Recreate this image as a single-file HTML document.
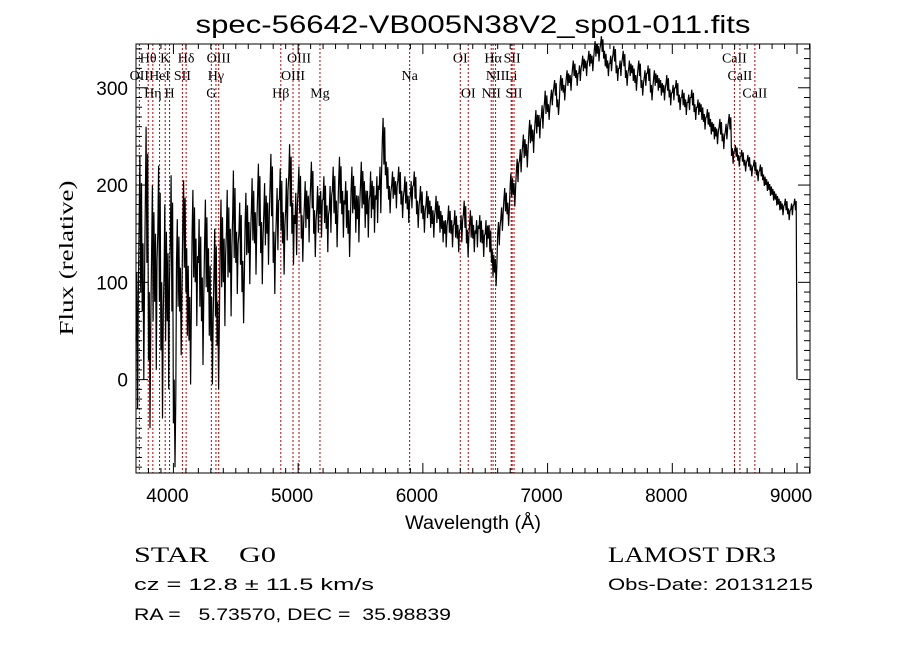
<!DOCTYPE html>
<html><head><meta charset="utf-8"><style>
html,body{margin:0;padding:0;background:#fff;width:900px;height:649px;overflow:hidden}
svg text{font-family:"Liberation Sans",sans-serif;fill:#000;white-space:pre}
.ser{font-family:"Liberation Serif",serif}
</style></head><body>
<svg id="chart" width="900" height="649" xmlns="http://www.w3.org/2000/svg" xml:space="preserve">
<text x="473" y="33" font-size="25" text-anchor="middle" textLength="555" lengthAdjust="spacingAndGlyphs">spec-56642-VB005N38V2_sp01-011.fits</text>
<g id="lines"></g>
<g id="labels"></g>
<g id="ticks"></g>
<path id="spec" fill="none" stroke="#000" stroke-width="1.2" stroke-linejoin="miter"/>
<rect x="136" y="44" width="674" height="429" fill="none" stroke="#000" stroke-width="1"/>
<text x="473" y="529" font-size="19" text-anchor="middle" textLength="136" lengthAdjust="spacingAndGlyphs">Wavelength (Å)</text>
<text transform="translate(73,258) rotate(-90)" font-size="20" text-anchor="middle" textLength="155" lengthAdjust="spacingAndGlyphs" class="ser">Flux (relative)</text>
<text x="134" y="562" font-size="22" class="ser" textLength="142" lengthAdjust="spacingAndGlyphs">STAR    G0</text>
<text x="134" y="590" font-size="17" textLength="240" lengthAdjust="spacingAndGlyphs">cz = 12.8 ± 11.5 km/s</text>
<text x="134" y="620" font-size="17" textLength="317" lengthAdjust="spacingAndGlyphs">RA =   5.73570, DEC =  35.98839</text>
<text x="608" y="562" font-size="22" class="ser" textLength="168" lengthAdjust="spacingAndGlyphs">LAMOST DR3</text>
<text x="608" y="590" font-size="17" textLength="205" lengthAdjust="spacingAndGlyphs">Obs-Date: 20131215</text>
</svg>
<script>
const startWave = 3700;
const stepWave = 25;
const flux = [
40,160,70,190,20,130,80,150,30,110,60,140,-45,120,70,160,90,40,150,100,
120,60,140,90,40,110,35,140,100,150,110,170,120,150,90,160,130,175,140,190,
130,170,150,200,120,165,185,140,175,210,150,160,195,145,180,165,200,150,175,170,
185,155,175,195,160,205,170,180,150,195,175,165,200,180,170,190,175,185,195,245,
210,185,200,190,205,180,195,175,190,200,170,185,165,180,170,160,175,165,155,150,
165,150,160,145,155,170,140,160,145,150,155,140,150,145,120,110,150,165,185,170,
200,190,215,225,240,230,255,245,265,260,270,285,275,290,300,280,305,295,310,305,
320,310,315,325,320,330,325,340,335,345,330,320,325,335,315,320,330,310,320,315,
305,320,300,310,315,295,310,305,300,295,305,290,295,300,285,290,280,285,290,275,
280,275,265,270,260,255,250,260,245,255,265,230,235,225,230,220,225,215,220,210,
215,205,200,195,190,185,180,175,180,170,175,180,0];
// scatter (noise half-width) of the spectrum by wavelength segment
const noiseStarts = [3700,4000,4500,5000,5700,6600,7000,8500,8990];
const noiseWidths = [70,45,32,24,14,12,8,6,0];
const lineNames = ["OII","Hθ","Hη","HeI","K","H","SII","Hδ","G","Hγ","OIII","Hβ","OIII","OIII","Mg","Na","OI","OI","NII","Hα","NII","Li","SII","SII","CaII","CaII","CaII"];
const lineWaves = [3727,3798,3835,3889,3934,3969,4072,4102,4304,4341,4363,4861,4959,5007,5175,5894,6300,6364,6548,6563,6583,6708,6716,6731,8498,8542,8662];
const lineRows = [2,1,3,2,1,3,2,1,3,2,1,3,2,1,3,2,1,3,3,1,2,2,1,3,1,2,3];
const xTicks = [4000,5000,6000,7000,8000,9000];
const yTicks = [0,100,200,300];

const X0=136,X1=810,Y0=44,Y1=473,WMIN=3700,WMAX=9104,FMIN=-96,FMAX=345;
const xs = w => X0+(w-WMIN)/(WMAX-WMIN)*(X1-X0);
const ys = f => Y1-(f-FMIN)/(FMAX-FMIN)*(Y1-Y0);
const NS="http://www.w3.org/2000/svg";
function mk(tag,parent,attrs){const e=document.createElementNS(NS,tag);for(const k in attrs)e.setAttribute(k,attrs[k]);parent.appendChild(e);return e;}
function noiseAt(w){let n=0;noiseStarts.forEach((s,i)=>{if(w>=s)n=noiseWidths[i];});return n;}

let d="";
flux.forEach((f,i)=>{
  const w=Math.min(startWave+i*stepWave,9000);
  const n=noiseAt(w);
  d+=(i?"L":"M")+xs(w).toFixed(1)+","+ys(f).toFixed(1);
  if(n>0&&i<flux.length-1){
    const sub=[0.25,0.5,0.75];
    const sgn=[1,-1,0.6];
    sub.forEach((s,k)=>{
      const w2=w+s*stepWave;
      d+="L"+xs(w2).toFixed(1)+","+ys(f+sgn[k]*n).toFixed(1);
    });
  }
});
document.getElementById('spec').setAttribute('d',d);

const gl=document.getElementById('lines'),glab=document.getElementById('labels');
lineWaves.forEach((w,i)=>{
  const l=mk('line',gl,{x1:xs(w),x2:xs(w),y1:Y0,y2:Y1,stroke:'#b00',"stroke-width":1,"stroke-dasharray":"2,2"});
  
  
  const t=mk('text',glab,{x:xs(w),y:45+lineRows[i]*17.5,"font-size":14,"text-anchor":"middle",class:"ser"});
  t.textContent=lineNames[i];
  
  
});

const gt=document.getElementById('ticks');
for(let w=3800;w<=9100;w+=100){
  const major=w%1000===0,len=major?10:5;
  mk('line',gt,{x1:xs(w),x2:xs(w),y1:Y1,y2:Y1-len,stroke:'#000'});
  mk('line',gt,{x1:xs(w),x2:xs(w),y1:Y0,y2:Y0+len,stroke:'#000'});
}
xTicks.forEach(w=>{
  const t=mk('text',gt,{x:xs(w)-6,y:502,"font-size":19,"text-anchor":"middle"});
  t.textContent=w;
  
  
});
for(let f=-90;f<=340;f+=10){
  const major=f%100===0,len=major?12:6;
  mk('line',gt,{x1:X0,x2:X0+len,y1:ys(f),y2:ys(f),stroke:'#000'});
  mk('line',gt,{x1:X1,x2:X1-len,y1:ys(f),y2:ys(f),stroke:'#000'});
}
yTicks.forEach(f=>{
  const t=mk('text',gt,{x:128,y:ys(f)+7,"font-size":19,"text-anchor":"end"});
  t.textContent=f;
  
  
});
</script>
</body></html>
